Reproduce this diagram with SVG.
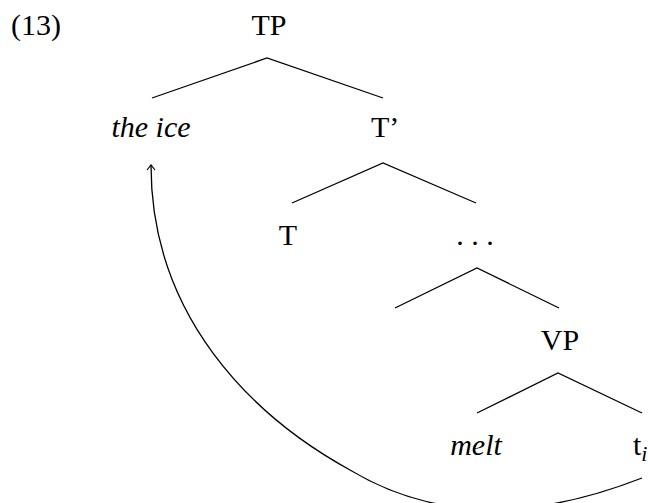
<svg xmlns="http://www.w3.org/2000/svg" width="648" height="503" viewBox="0 0 648 503">
<style>
text{font-family:"Liberation Serif","Times New Roman",serif;font-size:30px;fill:#000}
.m{text-anchor:middle}
.it{font-style:italic}
.br{stroke:#000;stroke-width:1.3;fill:none}
</style>
<defs>
<marker id="ah" markerWidth="10" markerHeight="10" refX="8" refY="5" orient="auto" markerUnits="userSpaceOnUse">
<path d="M3,1 L8,5 L3,9" fill="none" stroke="#000" stroke-width="1.2"/>
</marker>
</defs>
<rect width="648" height="503" fill="#fff"/>
<text x="11" y="35">(13)</text>
<g id="TP"><text class="m" x="269" y="35">TP</text></g>
<g id="theice"><text class="m it" x="151" y="137">the ice</text></g>
<g id="Tbar"><text x="371" y="137">T’</text></g>
<g id="T"><text class="m" x="288" y="245">T</text></g>
<g id="dots"><text class="m" x="475" y="245">. . .</text></g>
<g id="VP"><text class="m" x="560" y="350">VP</text></g>
<g id="melt"><text class="m it" x="476" y="455">melt</text></g>
<g id="trace"><text x="633" y="455">t<tspan class="it" font-size="22" dy="6">i</tspan></text></g>
<g id="connectors">
<path class="br" d="M152,98 L267,58 L383,98"/>
<path class="br" d="M292,203 L383,163 L476,203"/>
<path class="br" d="M395,308 L477,268 L559,308"/>
<path class="br" d="M477,413 L558,373 L642,413"/>
<path class="br" d="M642,478 C555,512 450,530 350,470 C250,415 151,315 151,165" marker-end="url(#ah)"/>
</g>
</svg>
